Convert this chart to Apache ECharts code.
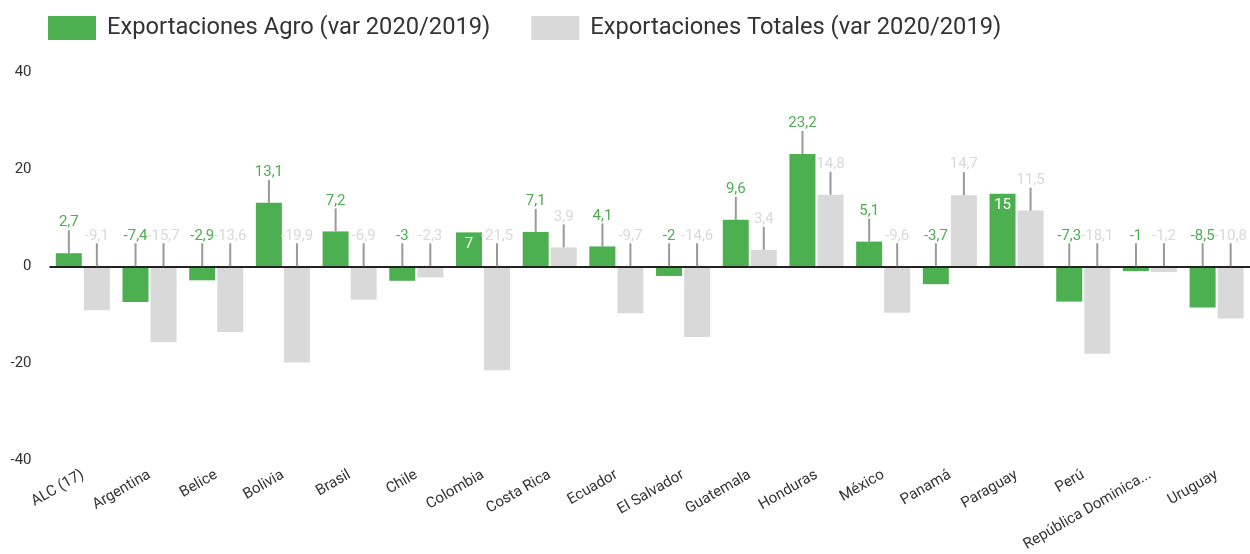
<!DOCTYPE html>
<html>
<head>
<meta charset="utf-8">
<script src="https://cdn.jsdelivr.net/npm/echarts@6/dist/echarts.min.js"></script>
<style>
html, body { margin: 0; padding: 0; background: #fff; }
#chart { width: 1250px; height: 554px; }
</style>
</head>
<body>
<div id="chart"></div>
<script>
var categories = ['ALC (17)', 'Argentina', 'Belice', 'Bolivia', 'Brasil', 'Chile', 'Colombia', 'Costa Rica', 'Ecuador',
  'El Salvador', 'Guatemala', 'Honduras', 'México', 'Panamá', 'Paraguay', 'Perú', 'República Dominicana', 'Uruguay'];
var agro = [2.7, -7.4, -2.9, 13.1, 7.2, -3, 7, 7.1, 4.1, -2, 9.6, 23.2, 5.1, -3.7, 15, -7.3, -1, -8.5];
var totales = [-9.1, -15.7, -13.6, -19.9, -6.9, -2.3, -21.5, 3.9, -9.7, -14.6, 3.4, 14.8, -9.6, 14.7, 11.5, -18.1, -1.2, -10.8];
var yTicks = [-40, -20, 0, 20, 40];
var seriesNames = ['Exportaciones Agro (var 2020/2019)', 'Exportaciones Totales (var 2020/2019)'];
// agro values whose label sits inside the bar instead of on a leader line
var agroInside = ['Colombia', 'Paraguay'];

var GREEN = '#4caf50';
var GREY = '#d9d9d9';

function fmt(v) {
  return String(v).replace('.', ',');
}

// value labels with a small grey leader line, like the original
function renderLabels(params, api) {
  var i = params.dataIndex;
  var children = [];
  var items = [
    { v: agro[i], dx: -14, color: GREEN, inside: agroInside.indexOf(categories[i]) >= 0 },
    { v: totales[i], dx: 14, color: GREY, inside: false }
  ];
  items.forEach(function (it) {
    var p = api.coord([i, Math.max(it.v, 0)]);
    var x = p[0] + it.dx;
    var y = p[1];
    if (it.inside) {
      children.push({
        type: 'text',
        style: { x: x, y: y + 12, text: fmt(it.v), fill: '#fff', fontSize: 15, fontFamily: 'Roboto', align: 'center', verticalAlign: 'middle' }
      });
      return;
    }
    children.push({
      type: 'line',
      shape: { x1: x, y1: y, x2: x, y2: y - 23 },
      style: { stroke: '#999', lineWidth: 2 }
    });
    children.push({
      type: 'text',
      style: { x: x, y: y - 23, text: fmt(it.v), fill: it.color, fontSize: 15, fontFamily: 'Roboto', align: 'center', verticalAlign: 'bottom' }
    });
  });
  return { type: 'group', children: children };
}

var chart = echarts.init(document.getElementById('chart'));
chart.setOption({
  animation: false,
  textStyle: { fontFamily: 'Roboto' },
  legend: {
    left: 48,
    top: 16,
    padding: 0,
    itemWidth: 48,
    itemHeight: 24,
    itemGap: 41,
    icon: 'rect',
    data: seriesNames,
    textStyle: { fontSize: 23.7, color: '#333', padding: [0, 0, 0, 6] }
  },
  grid: {
    left: 49.5,
    right: -4.5,
    top: 72.7,
    bottom: 89.3,
    containLabel: false
  },
  xAxis: {
    type: 'category',
    data: categories,
    axisLine: { show: false, onZero: false },
    axisTick: { show: false },
    axisLabel: {
      rotate: 30,
      interval: 0,
      margin: 14,
      fontSize: 15,
      color: '#333',
      formatter: function (s) {
        return s.length > 18 ? s.slice(0, 18) + '...' : s;
      }
    }
  },
  yAxis: {
    type: 'value',
    min: yTicks[0],
    max: yTicks[yTicks.length - 1],
    interval: 20,
    axisLine: { show: false },
    axisTick: { show: false },
    splitLine: { show: false },
    axisLabel: { fontSize: 15, color: '#333', margin: 18 }
  },
  series: [
    {
      name: seriesNames[0],
      type: 'bar',
      barWidth: 26,
      barGap: '8%',
      itemStyle: { color: GREEN },
      data: agro
    },
    {
      name: seriesNames[1],
      type: 'bar',
      barWidth: 26,
      itemStyle: { color: GREY },
      data: totales,
      markLine: {
        silent: true,
        symbol: 'none',
        label: { show: false },
        lineStyle: { color: '#222', width: 2, type: 'solid' },
        data: [{ yAxis: 0 }]
      }
    },
    {
      type: 'custom',
      z: 5,
      renderItem: renderLabels,
      data: agro.map(function (v, i) { return [i, v]; })
    }
  ]
});
</script>
</body>
</html>
